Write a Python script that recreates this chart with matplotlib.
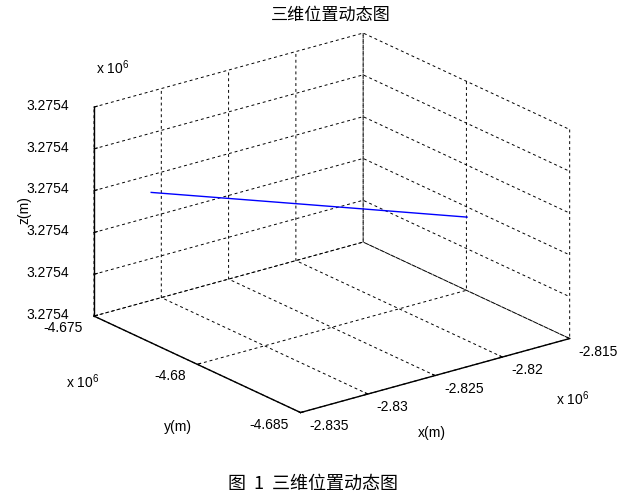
import matplotlib
matplotlib.use('Agg')
import matplotlib.pyplot as plt
import numpy as np

plt.rcParams['font.family'] = ['Liberation Sans', 'Noto Sans CJK SC', 'DejaVu Sans']
plt.rcParams['mathtext.fontset'] = 'custom'
plt.rcParams['mathtext.rm'] = 'Liberation Sans'
plt.rcParams['font.size'] = 10
plt.rcParams['grid.color'] = 'k'
plt.rcParams['grid.linestyle'] = (0, (3, 3))
plt.rcParams['grid.linewidth'] = 0.7

# 轨迹数据 (m)
x_pos = [-2832500.0, -2826300.0, -2820200.0]
y_pos = [-4676140.0, -4679800.0, -4683420.0]
z_pos = [3275430.0, 3275430.0, 3275430.0]

x_ticks = [-2835000, -2830000, -2825000, -2820000, -2815000]
x_labels = ['-2.835', '-2.83', '-2.825', '-2.82', '-2.815']
y_ticks = [-4685000, -4680000, -4675000]
y_labels = ['-4.685', '-4.68', '-4.675']
z_ticks = [3275400, 3275410, 3275420, 3275430, 3275440, 3275450]
z_labels = ['3.2754'] * 6

fig = plt.figure(figsize=(6.24, 4.99), dpi=100)
ax = fig.add_axes([0.021, 0.040, 1.0, 1.0], projection='3d', proj_type='ortho')
ax.view_init(elev=21, azim=-127.5)
ax.set_box_aspect((1, 1, 0.66), zoom=1.03)

ax.plot(x_pos, y_pos, z_pos, color='b', lw=1)

ax.set_xlim(x_ticks[0], x_ticks[-1])
ax.set_ylim(y_ticks[0], y_ticks[-1])
ax.set_zlim(z_ticks[0], z_ticks[-1])
ax.set_xticks(x_ticks)
ax.set_xticklabels(x_labels, ha='left', va='center')
ax.set_yticks(y_ticks)
ax.set_yticklabels(y_labels, ha='right', va='center')
ax.set_zticks(z_ticks)
ax.set_zticklabels(z_labels, ha='right', va='center')

for axis in (ax.xaxis, ax.yaxis, ax.zaxis):
    axis.set_pane_color((1, 1, 1, 0))
    axis.pane.set_edgecolor('none')
    axis.line.set_color('k')
    axis.line.set_linewidth(1.0)
    axis._axinfo['tick']['inward_factor'] = 0.0
    axis._axinfo['tick']['outward_factor'] = 0.15
ax.tick_params(labelsize=10, colors='k')
ax.xaxis.set_tick_params(pad=0)
ax.yaxis.set_tick_params(pad=0)
ax.zaxis.set_tick_params(pad=2)

fig.text(0.53, 0.97, '三维位置动态图', ha='center', va='center', fontsize=12.3,
         family=['Noto Sans CJK SC'])
fig.text(0.502, 0.030, '图  1  三维位置动态图', ha='center', va='center', fontsize=13,
         family=['Noto Sans CJK SC'])
fig.text(0.181, 0.864, 'x 10$^{6}$', ha='center', va='center')
fig.text(0.133, 0.236, 'x 10$^{6}$', ha='center', va='center')
fig.text(0.917, 0.202, 'x 10$^{6}$', ha='center', va='center')
fig.text(0.692, 0.132, 'x(m)', ha='center', va='center')
fig.text(0.285, 0.144, 'y(m)', ha='center', va='center')
fig.text(0.040, 0.579, 'z(m)', ha='center', va='center', rotation=90)

fig.savefig('out.png', dpi=100)
